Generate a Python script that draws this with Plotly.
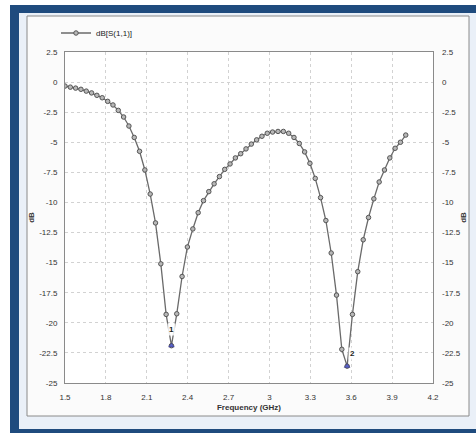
import plotly.graph_objects as go

# Frequency sweep (GHz) and S11 magnitude (dB)
freq_ghz = [1.500, 1.539, 1.578, 1.617, 1.656, 1.695, 1.734, 1.773, 1.813, 1.852,
            1.891, 1.930, 1.969, 2.008, 2.047, 2.086, 2.125, 2.164, 2.203, 2.242,
            2.281, 2.320, 2.359, 2.398, 2.438, 2.477, 2.516, 2.555, 2.594, 2.633,
            2.672, 2.711, 2.750, 2.789, 2.828, 2.867, 2.906, 2.945, 2.984, 3.023,
            3.063, 3.102, 3.141, 3.180, 3.219, 3.258, 3.297, 3.336, 3.375, 3.414,
            3.453, 3.492, 3.531, 3.570, 3.609, 3.648, 3.688, 3.727, 3.766, 3.805,
            3.844, 3.883, 3.922, 3.961, 4.000]
s11_db = [-0.33, -0.42, -0.50, -0.60, -0.75, -0.90, -1.10, -1.30, -1.60, -1.90,
          -2.35, -2.90, -3.65, -4.60, -5.75, -7.30, -9.30, -11.70, -15.10, -19.30,
          -21.90, -19.25, -16.15, -13.70, -12.20, -10.85, -9.85, -9.10, -8.45, -7.85,
          -7.25, -6.80, -6.30, -5.95, -5.55, -5.15, -4.80, -4.50, -4.25, -4.15,
          -4.10, -4.10, -4.25, -4.60, -5.10, -5.80, -6.75, -8.00, -9.60, -11.50,
          -14.20, -17.70, -22.20, -23.60, -19.30, -15.75, -13.10, -11.25, -9.70, -8.30,
          -7.30, -6.30, -5.50, -5.00, -4.40]

x_ticks = [1.5, 1.8, 2.1, 2.4, 2.7, 3.0, 3.3, 3.6, 3.9, 4.2]
x_tick_text = ["1.5", "1.8", "2.1", "2.4", "2.7", "3", "3.3", "3.6", "3.9", "4.2"]
y_ticks = [2.5, 0, -2.5, -5, -7.5, -10, -12.5, -15, -17.5, -20, -22.5, -25]
y_tick_text = ["2.5", "0", "-2.5", "-5", "-7.5", "-10", "-12.5", "-15", "-17.5", "-20", "-22.5", "-25"]
series_name = "dB[S(1,1)]"
marker_names = ["1", "2"]

FONT = "Liberation Sans, Arial, sans-serif"
TXT = "#333333"

fig = go.Figure()
fig.add_trace(go.Scatter(
    x=freq_ghz, y=s11_db, name=series_name, mode="lines+markers",
    line=dict(color="#6a6a6a", width=1.3),
    marker=dict(symbol="circle", size=4.5, color="#b8b8b8",
                line=dict(color="#555555", width=1)),
))

# marker points at the two resonances (from the data)
half = len(s11_db) // 2
i1 = min(range(0, half), key=lambda i: s11_db[i])
i2 = min(range(half, len(s11_db)), key=lambda i: s11_db[i])
fig.add_trace(go.Scatter(
    x=[freq_ghz[i1], freq_ghz[i2]], y=[s11_db[i1], s11_db[i2]],
    mode="markers", showlegend=False, hoverinfo="skip",
    marker=dict(symbol="triangle-up", size=5, color="#5a64c8",
                line=dict(color="#2a2a80", width=0.5)),
))
# invisible trace so the mirrored right axis is drawn
fig.add_trace(go.Scatter(x=[None], y=[None], yaxis="y2", showlegend=False,
                         hoverinfo="skip"))

for idx, name, xs, ys in [(i1, marker_names[0], 0, 16), (i2, marker_names[1], 5, 13)]:
    fig.add_annotation(x=freq_ghz[idx], y=s11_db[idx], text="<b>" + name + "</b>",
                       showarrow=False, xshift=xs, yshift=ys,
                       font=dict(family=FONT, size=8, color="#222"),
                       bgcolor="rgba(255,255,255,0.85)")

def px_x(p):
    return (p - 65) / 368.0

def px_y(p):
    return (383 - p) / 331.0

shapes = [
    dict(type="rect", xref="paper", yref="paper", x0=px_x(10), x1=px_x(480),
         y0=px_y(440), y1=px_y(5), fillcolor="#1f4b7e", line=dict(width=0), layer="below"),
    dict(type="rect", xref="paper", yref="paper", x0=px_x(19), x1=px_x(480),
         y0=px_y(429), y1=px_y(13), fillcolor="#eaf0f8", line=dict(width=0), layer="below"),
    dict(type="rect", xref="paper", yref="paper", x0=px_x(27), x1=px_x(469),
         y0=px_y(416), y1=px_y(16), fillcolor="#fbfbfb",
         line=dict(color="#8a8a8a", width=1), layer="below"),
    dict(type="rect", xref="paper", yref="paper", x0=0, x1=1, y0=0, y1=1,
         fillcolor="#ffffff", line=dict(width=0), layer="below"),
]

axis_common = dict(
    showline=True, linecolor="#8a8a8a", linewidth=1, mirror=True,
    showgrid=True, gridcolor="#d2d2d2", griddash="dot", gridwidth=1,
    zeroline=False, ticks="", automargin=False,
    tickfont=dict(family=FONT, size=8, color=TXT),
)

fig.update_layout(
    width=476, height=433, autosize=False,
    margin=dict(l=65, r=43, t=52, b=50, pad=0),
    paper_bgcolor="#ffffff", plot_bgcolor="#ffffff",
    font=dict(family=FONT, size=8, color=TXT),
    shapes=shapes,
    xaxis=dict(range=[1.5, 4.2], tickvals=x_ticks, ticktext=x_tick_text,
               ticklabelstandoff=6,
               title=dict(text="<b>Frequency (GHz)</b>", standoff=3,
                          font=dict(family=FONT, size=8, color=TXT)),
               **axis_common),
    yaxis=dict(range=[-25, 2.5], tickvals=y_ticks, ticktext=y_tick_text,
               ticklabelstandoff=5,
               title=dict(text="<b>dB</b>", standoff=3,
                          font=dict(family=FONT, size=8, color=TXT)),
               **axis_common),
    yaxis2=dict(range=[-25, 2.5], tickvals=y_ticks, ticktext=y_tick_text,
                overlaying="y", side="right", showgrid=False, showline=False,
                zeroline=False, ticks="", ticklabelstandoff=8, automargin=False,
                tickfont=dict(family=FONT, size=8, color=TXT),
                title=dict(text="<b>dB</b>", standoff=0,
                           font=dict(family=FONT, size=8, color=TXT))),
    legend=dict(x=px_x(56), y=px_y(33), xanchor="left", yanchor="middle",
                bgcolor="rgba(0,0,0,0)", borderwidth=0,
                font=dict(family=FONT, size=8, color="#222"),
                itemwidth=30, tracegroupgap=0),
    showlegend=True,
)

fig.write_html("out.html", config={"displayModeBar": False},
               post_script="document.body.style.margin='0';document.body.style.overflow='hidden';")
